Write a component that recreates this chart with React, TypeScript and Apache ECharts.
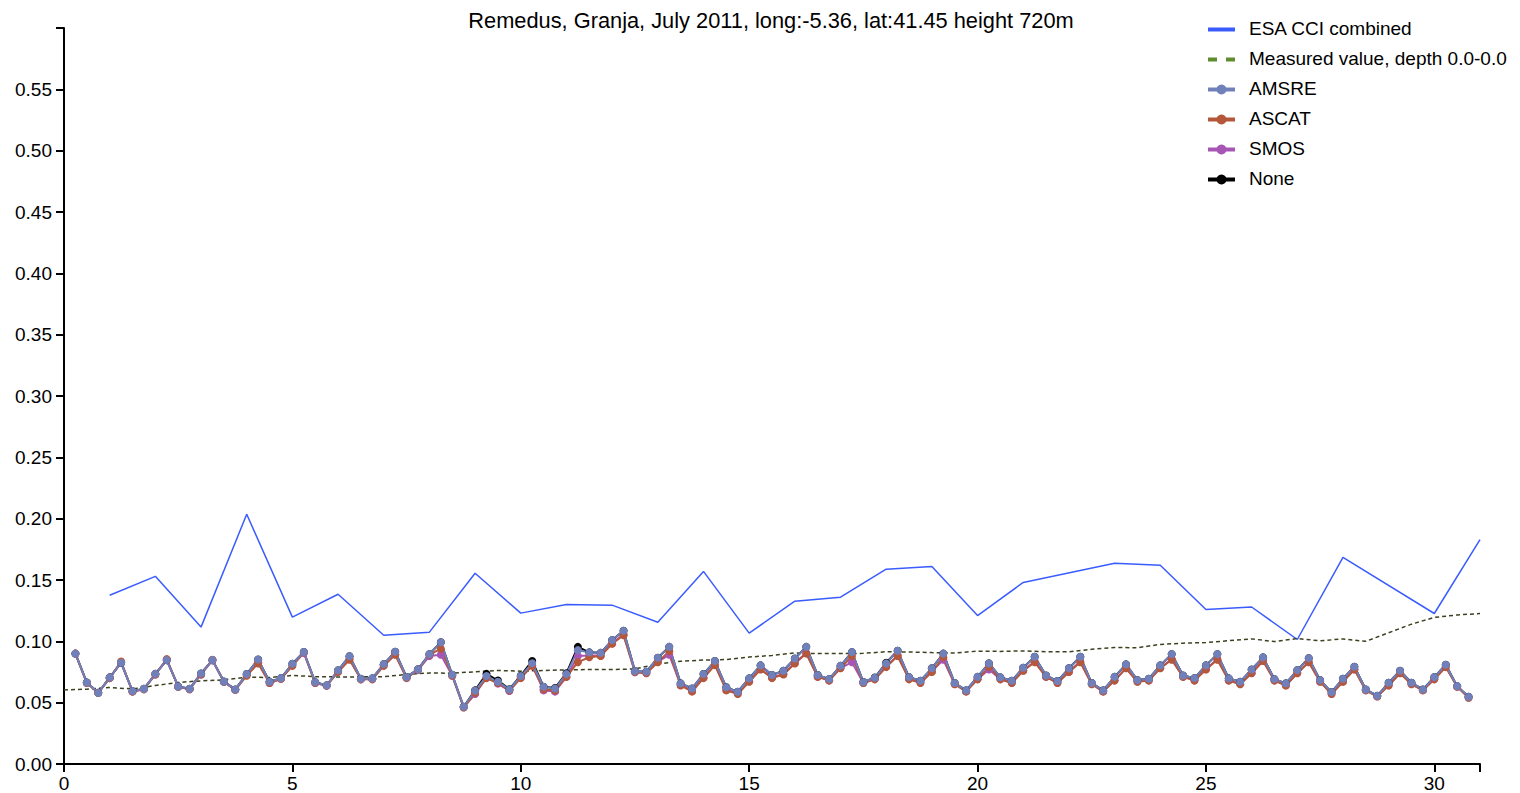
import React, { useEffect, useRef } from "react";
import * as echarts from "echarts";

const TITLE = "Remedus, Granja, July 2011, long:-5.36, lat:41.45 height 720m";

// ESA CCI combined product, daily values (days 22 and 29 missing)
const ESA_DAYS = [1, 2, 3, 4, 5, 6, 7, 8, 9, 10, 11, 12, 13, 14, 15, 16, 17, 18, 19, 20, 21, 23, 24, 25, 26, 27, 28, 30, 31];
const ESA_VALUES = [
  0.1376, 0.153, 0.1116, 0.2036, 0.1197, 0.1384, 0.105, 0.1075, 0.1555, 0.123, 0.13, 0.1295, 0.1156, 0.157, 0.1067,
  0.1327, 0.136, 0.1588, 0.161, 0.121, 0.148, 0.1637, 0.162, 0.126, 0.128, 0.1015, 0.1685, 0.1227, 0.183,
];

// In-situ measurement, sampled every half day from day 0 to day 31
const MEASURED = [
  0.0604, 0.061, 0.0623, 0.0612, 0.064, 0.0665, 0.0678, 0.0686, 0.0708, 0.0705, 0.0722, 0.0712, 0.071, 0.071, 0.0712,
  0.073, 0.0742, 0.074, 0.0752, 0.0762, 0.0757, 0.0762, 0.0768, 0.077, 0.077, 0.0775, 0.0815, 0.0838, 0.0847, 0.0852,
  0.0872, 0.0885, 0.0905, 0.09, 0.09, 0.0902, 0.0915, 0.0913, 0.0908, 0.0905, 0.092, 0.0918, 0.0922, 0.0915, 0.0915,
  0.0935, 0.095, 0.0948, 0.0975, 0.0985, 0.099, 0.1005, 0.102, 0.0998, 0.1023, 0.1004, 0.102, 0.1, 0.107, 0.114,
  0.1195, 0.1215, 0.1227,
];

// Sensor retrievals, one every six hours from day 0.25 to day 30.75
const AMSRE = [
  0.09, 0.0665, 0.058, 0.0706, 0.0825, 0.0594, 0.0613, 0.0735, 0.0847, 0.0632, 0.0613, 0.0738, 0.0847, 0.0673, 0.0608,
  0.0733, 0.0852, 0.067, 0.07, 0.0817, 0.0913, 0.0667, 0.0641, 0.0763, 0.0879, 0.0695, 0.0698, 0.0814, 0.0915, 0.0708,
  0.0773, 0.0896, 0.0993, 0.0727, 0.0467, 0.0597, 0.0717, 0.067, 0.0608, 0.0717, 0.0822, 0.063, 0.0616, 0.0733, 0.0928,
  0.091, 0.0906, 0.101, 0.1086, 0.0757, 0.0752, 0.0866, 0.0955, 0.0657, 0.0616, 0.0733, 0.0839, 0.0625, 0.0589, 0.0698,
  0.0804, 0.0725, 0.076, 0.086, 0.0955, 0.0725, 0.0692, 0.08, 0.0912, 0.0668, 0.0703, 0.082, 0.0923, 0.0708, 0.0679,
  0.078, 0.09, 0.066, 0.06, 0.071, 0.082, 0.0706, 0.0679, 0.0785, 0.0874, 0.0722, 0.0676, 0.078, 0.0874, 0.066,
  0.06, 0.071, 0.0812, 0.0684, 0.0695, 0.0804, 0.0896, 0.0722, 0.07, 0.0804, 0.0896, 0.0698, 0.067, 0.077, 0.0869,
  0.0692, 0.0657, 0.0765, 0.0863, 0.0684, 0.0586, 0.0695, 0.0793, 0.0608, 0.0556, 0.0662, 0.076, 0.0662, 0.0608, 0.0708,
  0.0809, 0.0635, 0.0548,
];

const ASCAT = [
  0.09, 0.066, 0.058, 0.07, 0.0835, 0.059, 0.061, 0.073, 0.0855, 0.063, 0.061, 0.073, 0.085, 0.067, 0.0605,
  0.072, 0.082, 0.066, 0.0695, 0.08, 0.091, 0.066, 0.064, 0.075, 0.085, 0.069, 0.069, 0.08, 0.089, 0.07,
  0.077, 0.089, 0.094, 0.072, 0.046, 0.058, 0.07, 0.066, 0.06, 0.07, 0.08, 0.061, 0.06, 0.071, 0.083,
  0.087, 0.088, 0.098, 0.105, 0.075, 0.074, 0.083, 0.092, 0.064, 0.059, 0.07, 0.0806, 0.06, 0.057, 0.067,
  0.077, 0.07, 0.073, 0.082, 0.09, 0.071, 0.068, 0.078, 0.088, 0.066, 0.069, 0.079, 0.088, 0.069, 0.066,
  0.075, 0.087, 0.065, 0.059, 0.069, 0.079, 0.069, 0.066, 0.076, 0.083, 0.071, 0.066, 0.075, 0.083, 0.065,
  0.059, 0.068, 0.078, 0.067, 0.068, 0.078, 0.085, 0.071, 0.068, 0.077, 0.085, 0.068, 0.065, 0.074, 0.084,
  0.068, 0.064, 0.074, 0.083, 0.067, 0.057, 0.067, 0.077, 0.06, 0.055, 0.064, 0.074, 0.065, 0.06, 0.069,
  0.079, 0.063, 0.054,
];

const SMOS = [
  0.09, 0.066, 0.058, 0.07, 0.083, 0.059, 0.061, 0.073, 0.085, 0.063, 0.061, 0.073, 0.0845, 0.067, 0.0605,
  0.0725, 0.083, 0.066, 0.0695, 0.0805, 0.0905, 0.066, 0.0638, 0.0755, 0.086, 0.069, 0.0692, 0.0805, 0.0895, 0.0702,
  0.0765, 0.088, 0.089, 0.072, 0.0462, 0.057, 0.0705, 0.0655, 0.0595, 0.0705, 0.0805, 0.06, 0.059, 0.071, 0.088,
  0.0885, 0.0885, 0.0985, 0.1055, 0.0748, 0.0742, 0.0835, 0.089, 0.0645, 0.0595, 0.0705, 0.081, 0.0605, 0.0575, 0.0675,
  0.0775, 0.0705, 0.0735, 0.0825, 0.0905, 0.0712, 0.0682, 0.0782, 0.083, 0.066, 0.0692, 0.0795, 0.0885, 0.0695, 0.0665,
  0.0755, 0.085, 0.0652, 0.0592, 0.0692, 0.077, 0.0692, 0.0662, 0.0762, 0.0835, 0.0712, 0.0662, 0.0752, 0.0835, 0.0652,
  0.0592, 0.0682, 0.0782, 0.0672, 0.0682, 0.0782, 0.0855, 0.0712, 0.0682, 0.0772, 0.0855, 0.0682, 0.0652, 0.0742, 0.0842,
  0.0682, 0.0642, 0.0742, 0.0832, 0.0672, 0.0572, 0.0672, 0.0772, 0.0602, 0.0552, 0.0642, 0.0742, 0.0652, 0.0602, 0.0692,
  0.0792, 0.0632, 0.0542,
];

const NONE = [
  0.09, 0.0665, 0.058, 0.0706, 0.0825, 0.0594, 0.0613, 0.0735, 0.0847, 0.0632, 0.0613, 0.0738, 0.0847, 0.0673, 0.0608,
  0.0733, 0.0852, 0.067, 0.07, 0.0817, 0.0913, 0.0667, 0.0641, 0.0763, 0.0879, 0.0695, 0.0698, 0.0814, 0.0915, 0.0708,
  0.0773, 0.0896, 0.0993, 0.0727, 0.0467, 0.06, 0.0735, 0.068, 0.061, 0.072, 0.084, 0.063, 0.062, 0.074, 0.0955,
  0.091, 0.0906, 0.101, 0.1086, 0.0757, 0.0752, 0.0866, 0.0955, 0.0657, 0.0616, 0.0733, 0.0839, 0.0625, 0.0589, 0.0698,
  0.0804, 0.0725, 0.076, 0.086, 0.0955, 0.0725, 0.0692, 0.08, 0.0912, 0.0668, 0.0705, 0.0825, 0.0923, 0.0708, 0.0679,
  0.078, 0.09, 0.066, 0.06, 0.071, 0.082, 0.0706, 0.0679, 0.0785, 0.0874, 0.0722, 0.0676, 0.078, 0.0874, 0.066,
  0.06, 0.071, 0.0812, 0.0684, 0.0695, 0.0804, 0.0896, 0.0722, 0.07, 0.0804, 0.0896, 0.0698, 0.067, 0.077, 0.0869,
  0.0692, 0.0657, 0.0765, 0.0863, 0.0684, 0.0586, 0.0695, 0.0793, 0.0608, 0.0556, 0.0662, 0.076, 0.0662, 0.0608, 0.0708,
  0.0809, 0.0635, 0.0548,
];

// Sample times (in days) for the six-hourly sensors and the half-daily measurement
const SAT_TIMES = AMSRE.map((_, i) => (i + 1) * 0.25);
const MEASURED_TIMES = MEASURED.map((_, i) => i * 0.5);

const FONT = "'Liberation Sans', Arial, Helvetica, sans-serif";

const COLORS = {
  esa: "#3a5cff",
  measuredLegend: "#5f8c2f",
  measuredLine: "#3c4220",
  amsre: "#7080bb",
  ascat: "#b5573a",
  smos: "#a856b6",
  none: "#000000",
};

type LegendEntry = { name: string; color: string; kind: "line" | "dash" | "marker" };

const LEGEND: LegendEntry[] = [
  { name: "ESA CCI combined", color: COLORS.esa, kind: "line" },
  { name: "Measured value, depth 0.0-0.0", color: COLORS.measuredLegend, kind: "dash" },
  { name: "AMSRE", color: COLORS.amsre, kind: "marker" },
  { name: "ASCAT", color: COLORS.ascat, kind: "marker" },
  { name: "SMOS", color: COLORS.smos, kind: "marker" },
  { name: "None", color: COLORS.none, kind: "marker" },
];

const pair = (xs: number[], ys: number[]) => xs.map((x, i) => [x, ys[i]]);

function sensorSeries(name: string, color: string, values: number[]) {
  return {
    name,
    type: "line",
    data: pair(SAT_TIMES, values),
    symbol: "circle",
    symbolSize: 8,
    showSymbol: true,
    itemStyle: { color },
    lineStyle: { color, width: 2 },
    emphasis: { disabled: true },
  };
}

// Legend block drawn at the top right: a swatch (line, dashes or line with dot) and a label per row
function legendGraphics() {
  const x0 = 1208;
  const x1 = 1235;
  const rowY = 29.5;
  const step = 30;
  const children: any[] = [];
  LEGEND.forEach((entry, i) => {
    const y = rowY + i * step;
    const lineStyle = { stroke: entry.color, lineWidth: 4 };
    if (entry.kind === "dash") {
      children.push({ type: "line", shape: { x1: x0, y1: y, x2: x0 + 9, y2: y }, style: lineStyle });
      children.push({ type: "line", shape: { x1: x0 + 18, y1: y, x2: x1, y2: y }, style: lineStyle });
    } else {
      children.push({ type: "line", shape: { x1: x0, y1: y, x2: x1, y2: y }, style: lineStyle });
    }
    if (entry.kind === "marker") {
      children.push({
        type: "circle",
        shape: { cx: (x0 + x1) / 2, cy: y, r: 5 },
        style: { fill: entry.color },
      });
    }
    children.push({
      type: "text",
      x: 1249,
      y: y - 1,
      style: {
        text: entry.name,
        fill: "#000",
        font: `19px ${FONT}`,
        align: "left",
        verticalAlign: "middle",
      },
    });
  });
  return { type: "group", children };
}

export default function App() {
  const ref = useRef<HTMLDivElement>(null);

  useEffect(() => {
    if (!ref.current) return;
    const chart = echarts.init(ref.current, undefined, { renderer: "svg" });
    chart.setOption({
      animation: false,
      backgroundColor: "#ffffff",
      textStyle: { fontFamily: FONT },
      graphic: [
        {
          type: "text",
          x: 771,
          y: 20,
          style: {
            text: TITLE,
            fill: "#000",
            font: `21.8px ${FONT}`,
            align: "center",
            verticalAlign: "middle",
          },
        },
        legendGraphics(),
      ],
      grid: { left: 64, right: 40, top: 28, bottom: 29, containLabel: false },
      xAxis: {
        type: "value",
        min: 0,
        max: 31,
        interval: 5,
        splitLine: { show: false },
        axisLine: { show: true, onZero: false, lineStyle: { color: "#000", width: 2 } },
        axisTick: { show: true, length: 8, lineStyle: { color: "#000", width: 2 } },
        axisLabel: {
          color: "#000",
          fontSize: 19,
          fontFamily: FONT,
          margin: 10,
          formatter: (v: number) => (v % 5 === 0 ? String(v) : ""),
        },
      },
      yAxis: {
        type: "value",
        min: 0,
        max: 0.6,
        interval: 0.05,
        splitLine: { show: false },
        axisLine: { show: true, onZero: false, lineStyle: { color: "#000", width: 2 } },
        axisTick: { show: true, length: 8, lineStyle: { color: "#000", width: 2 } },
        axisLabel: {
          color: "#000",
          fontSize: 19,
          fontFamily: FONT,
          margin: 12,
          formatter: (v: number) => (v > 0.575 ? "" : v.toFixed(2)),
        },
      },
      series: [
        {
          name: "ESA CCI combined",
          type: "line",
          data: pair(ESA_DAYS, ESA_VALUES),
          showSymbol: false,
          symbol: "none",
          itemStyle: { color: COLORS.esa },
          lineStyle: { color: COLORS.esa, width: 1.5 },
          emphasis: { disabled: true },
        },
        {
          name: "Measured value, depth 0.0-0.0",
          type: "line",
          data: pair(MEASURED_TIMES, MEASURED),
          showSymbol: false,
          symbol: "none",
          itemStyle: { color: COLORS.measuredLegend },
          lineStyle: { color: COLORS.measuredLine, width: 1.5, type: [4, 3] },
          emphasis: { disabled: true },
        },
        sensorSeries("None", COLORS.none, NONE),
        sensorSeries("SMOS", COLORS.smos, SMOS),
        sensorSeries("ASCAT", COLORS.ascat, ASCAT),
        sensorSeries("AMSRE", COLORS.amsre, AMSRE),
      ],
    });
    return () => chart.dispose();
  }, []);

  return (
    <div
      ref={ref}
      style={{ position: "fixed", left: 0, top: 0, width: 1520, height: 793, background: "#fff" }}
    />
  );
}
